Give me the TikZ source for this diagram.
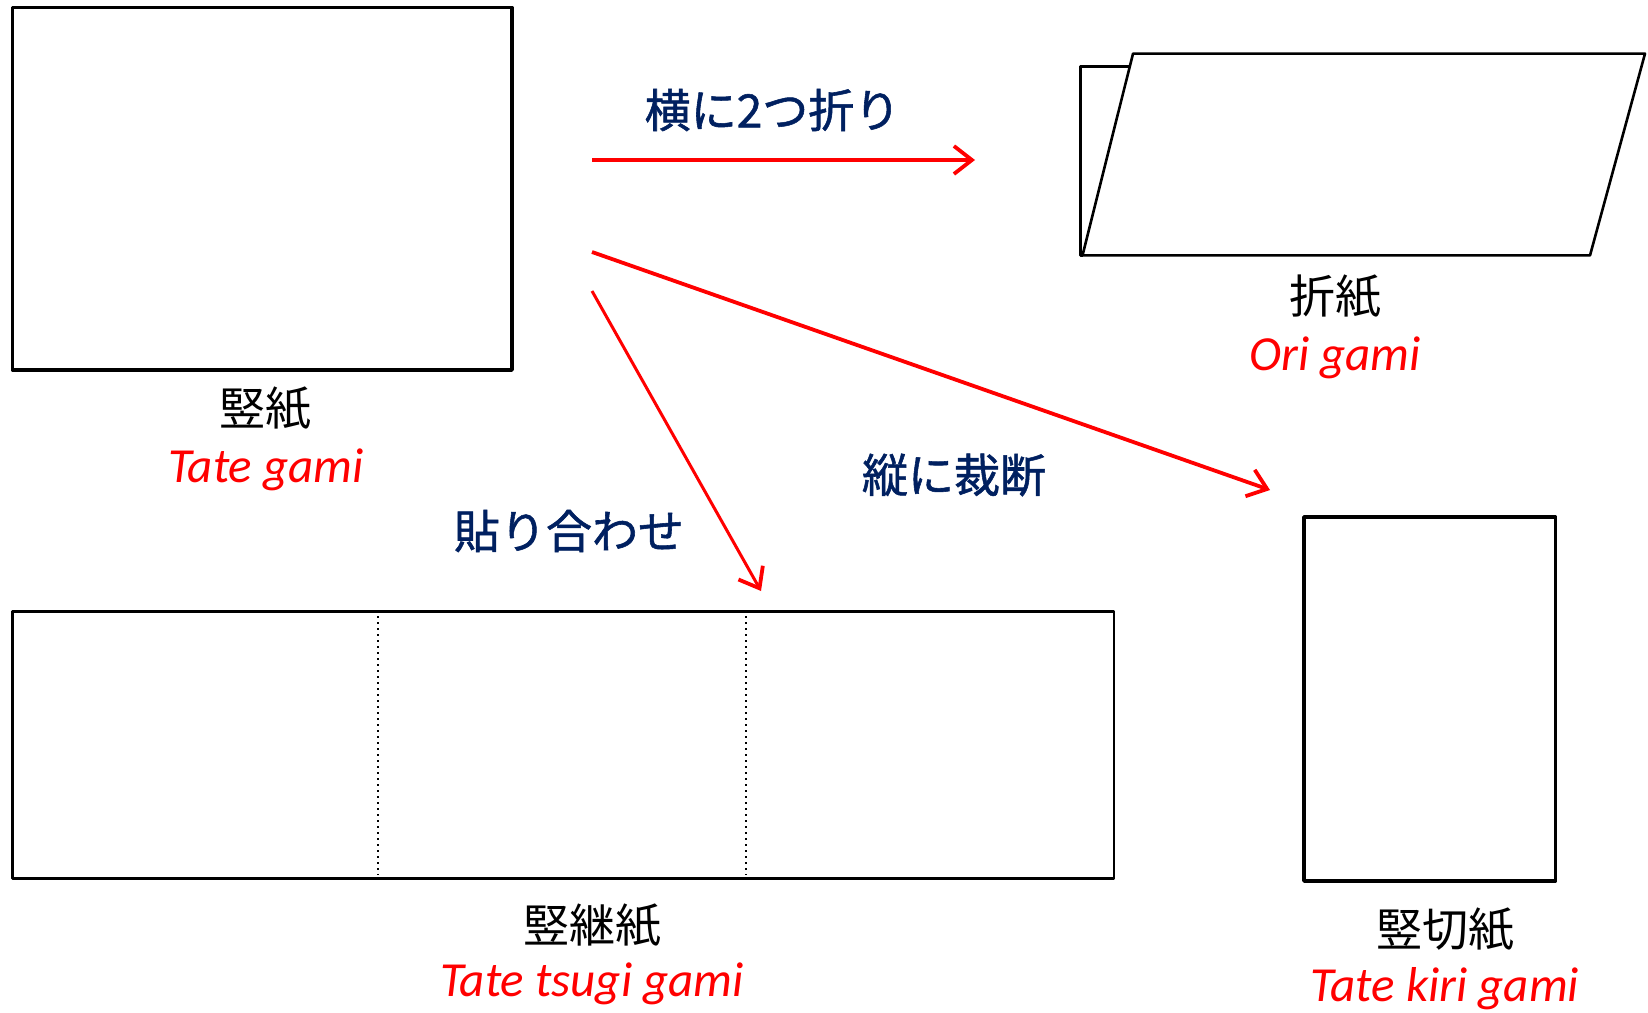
\documentclass[tikz,border=0pt]{standalone}
\usepackage{fontspec}
\usetikzlibrary{arrows.meta}
\newfontfamily\jpfont{Noto Sans CJK JP}
\newfontfamily\jpbfont[FakeBold=1.2]{Noto Sans CJK JP}
\newfontfamily\latfont{Carlito}
\definecolor{navy}{RGB}{0,32,96}
\definecolor{pred}{RGB}{255,0,0}
\tikzset{
  paper/.style={draw=black,line width=1.75pt,fill=white,line join=round},
  thinpaper/.style={draw=black,line width=1.3pt,fill=white,line join=round},
  fold/.style={draw=black,line width=1pt,dotted},
  redarrow/.style={draw=pred,line width=1.9pt,-{Straight Barb[length=9pt,width=14pt,line width=1.9pt]}},
  jplabel/.style={font=\jpfont\fontsize{23}{28}\selectfont,text=black,inner sep=0pt},
  bluelabel/.style={font=\jpbfont\fontsize{23}{28}\selectfont,text=navy,inner sep=0pt},
  romaji/.style={font=\latfont\itshape\fontsize{24.5}{29}\selectfont,text=pred,inner sep=0pt}
}
\begin{document}
\begin{tikzpicture}[x=0.5pt,y=-0.5pt]
\useasboundingbox (0,0) rectangle (1648,1012);
% Tate gami
\draw[paper] (12.6,7.4) rectangle (512,370);
\node[jplabel] (tgj) at (265,408) {竪紙};
\node[romaji] (tgr) at (266,470) {Tate gami};
% Ori gami
\draw[thinpaper] (1129.8,66.2) -- (1080.5,66.2) -- (1080.5,255.4) -- (1082.5,255.4);
\draw[thinpaper] (1133,53.6) -- (1645,53.6) -- (1590,255.4) -- (1082.5,255.4) -- cycle;
\node[jplabel] (ogj) at (1335,296) {折紙};
\node[romaji] (ogr) at (1335,358) {Ori gami};
% Tate tsugi gami
\draw[thinpaper] (12.6,611.7) rectangle (1114,878.6);
\draw[fold] (378,616) -- (378,875);
\draw[fold] (746,616) -- (746,875);
\node[jplabel] (ttj) at (592,925) {竪継紙};
\node[romaji] (ttr) at (592,984) {Tate tsugi gami};
% Tate kiri gami
\draw[paper] (1304,517) rectangle (1555.5,881);
\node[jplabel] (tkj) at (1445,929) {竪切紙};
\node[romaji] (tkr) at (1445,989) {Tate kiri gami};
% arrows
\coordinate (a1s) at (592,160); \coordinate (a1e) at (975,160);
\coordinate (a2s) at (592,252); \coordinate (a2e) at (1270,490);
\coordinate (a3s) at (592,291); \coordinate (a3e) at (761,591);
\draw[redarrow] (a1s) -- (a1e);
\draw[redarrow] (a2s) -- (a2e);
\draw[redarrow,line width=1.5pt] (a3s) -- (a3e);
\node[bluelabel] (l1) at (772.5,110) {横に2つ折り};
\node[bluelabel] (l2) at (954,475) {縦に裁断};
\node[bluelabel] (l3) at (569,531) {貼り合わせ};
\end{tikzpicture}
\end{document}
